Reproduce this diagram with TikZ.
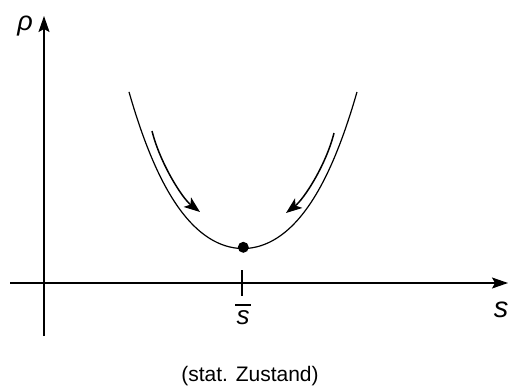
\documentclass[tikz,border=0pt]{standalone}
\usepackage{fontspec}
\setmainfont{Liberation Sans}
\usetikzlibrary{arrows.meta}
\begin{document}
\begin{tikzpicture}[x=1pt,y=-1pt,
  axis/.style={line width=1.3pt,-{Stealth[length=16pt,width=11pt,inset=3pt]}},
  curve/.style={line width=1.2pt},
  flow/.style={line width=1.5pt,-{Stealth[length=16pt,width=12pt,inset=4pt]}},
  lbl/.style={inner sep=0pt}]
\useasboundingbox (0,0) rectangle (510,388);
\coordinate (yb) at (44,336);
\coordinate (yt) at (44,16);
\coordinate (xl) at (10,283);
\coordinate (xr) at (508,283);
\draw[axis] (yb) -- (yt);
\draw[axis] (xl) -- (xr);
\coordinate (t1) at (242,270);
\coordinate (t2) at (242,296);
\draw[line width=1.2pt] (t1) -- (t2);
\draw[curve] plot[domain=-1.14:1.14,samples=101,smooth] ({243+100*\x},{248.5-88*\x*\x-25*\x*\x*\x*\x});
\node[circle,fill=black,minimum size=11pt,inner sep=0pt] (min) at (243.3,247.3) {};
\coordinate (la) at (152,131);
\coordinate (lb) at (200,212);
\coordinate (ra) at (334,133);
\coordinate (rb) at (286,213);
\draw[flow] (la) .. controls (160,163) and (182,198) .. (lb);
\draw[flow] (ra) .. controls (326,165) and (304,199) .. (rb);
\node[lbl,font=\fontsize{27}{30}\selectfont\itshape] (rho) at (25,26) {ρ};
\node[lbl,font=\fontsize{29}{34}\selectfont\itshape] (s) at (501,310) {s};
\node[lbl,font=\fontsize{26}{30}\selectfont\itshape] (sbar) at (243,318) {s};
\draw[line width=1.2pt] (235,305) -- (251,305);
\node[lbl,font=\fontsize{21}{25}\selectfont] (cap) at (250,376) {(stat. Zustand)};
\end{tikzpicture}
\end{document}
